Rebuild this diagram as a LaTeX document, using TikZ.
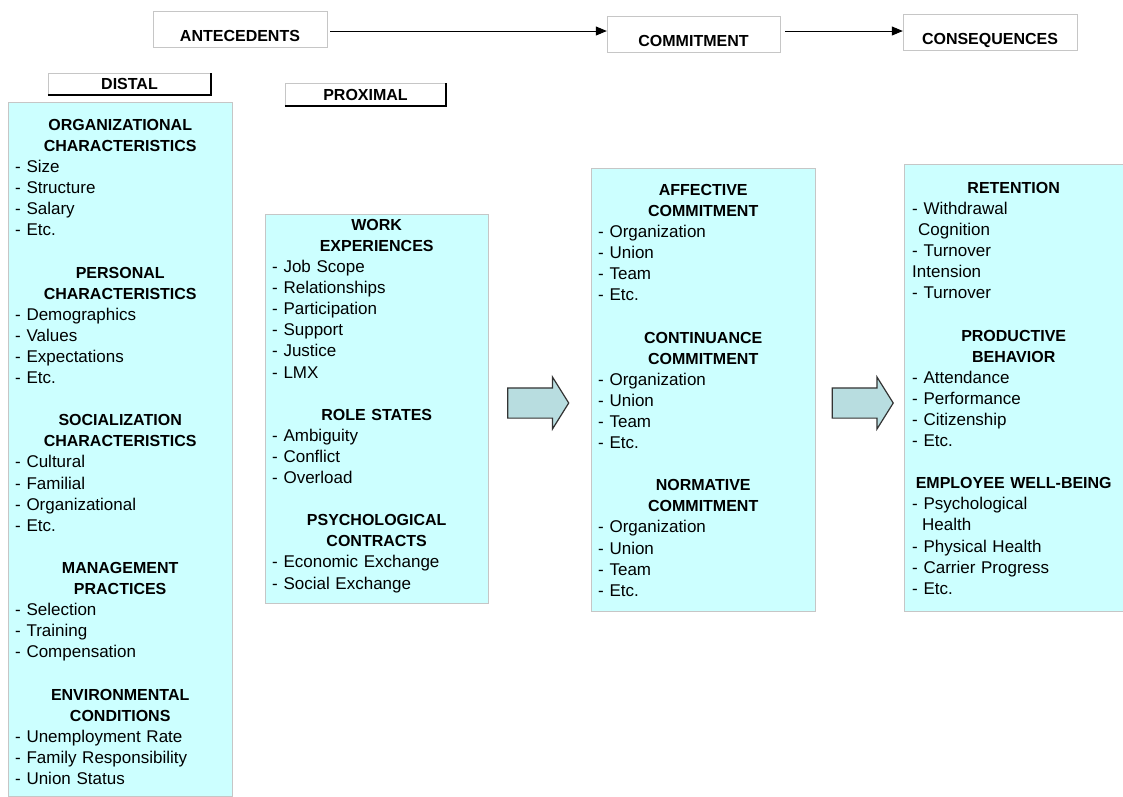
\documentclass[tikz,border=0pt]{standalone}
\usepackage{fontspec}
\setmainfont{Liberation Sans}
\usetikzlibrary{arrows.meta,shapes.arrows}

\definecolor{boxcyan}{RGB}{204,255,255}
\definecolor{arrowfill}{RGB}{184,221,224}

% heading inside a column box, centred and bold
\newcommand{\colhead}[1]{{\centering\bfseries\fontsize{16}{21.1}\selectfont #1\par}}
% one empty row between two groups
\newcommand{\blankrow}{\par\vspace{21.1pt}}

\tikzset{
  colbox/.style={draw=gray!45, fill=boxcyan, anchor=north west, inner sep=0pt},
  coltext/.style={anchor=north, inner sep=0pt, align=left,
    font=\fontsize{17}{21.1}\selectfont},
  hdrbox/.style={draw=gray!45, minimum width=174pt, minimum height=36pt, inner sep=0pt,
    font=\bfseries\fontsize{16}{19}\selectfont, text height=26pt, text depth=1pt},
  tagbox/.style={draw=gray!45, minimum height=22pt, inner sep=0pt,
    font=\bfseries\fontsize{16}{19}\selectfont},
  hdrarrow/.style={-{Triangle[length=11pt,width=9pt]}, line width=1pt},
  bigarrow/.style={single arrow, draw=black!80, line width=1.2pt, fill=arrowfill,
    minimum height=61pt, inner xsep=0pt, inner ysep=14.5pt,
    single arrow head extend=11pt, single arrow tip angle=116}
}

\begin{document}
\begin{tikzpicture}[x=1pt, y=-1pt]
  \useasboundingbox (0,0) rectangle (1123,796);

  % top row
  \node[hdrbox] (ante) at (240,29) {ANTECEDENTS};
  \node[hdrbox, minimum width=173pt] (hcomm) at (693.5,34) {COMMITMENT};
  \node[hdrbox] (hcons) at (990,32) {CONSEQUENCES};
  \draw[hdrarrow, shorten <=3pt] ([yshift=-2pt]ante.east) -- ([yshift=-2pt]ante.east -| hcomm.west);
  \draw[hdrarrow, shorten <=5pt] ([yshift=3pt]hcomm.east) -- ([yshift=3pt]hcomm.east -| hcons.west);

  % distal / proximal tags
  \node[tagbox, minimum width=163pt] (distlbl) at (129.5,84) {DISTAL};
  \draw[line width=1.6pt] (distlbl.south west) -- (distlbl.south east) -- (distlbl.north east);
  \node[tagbox, minimum width=161pt] (proxlbl) at (365.5,94.5) {PROXIMAL};
  \draw[line width=1.6pt] (proxlbl.south west) -- (proxlbl.south east) -- (proxlbl.north east);

  % column boxes
  \node[colbox, minimum width=224pt, minimum height=694pt] (distal) at (8,102) {};
  \node[colbox, minimum width=223pt, minimum height=389pt] (work) at (265,214) {};
  \node[colbox, minimum width=224pt, minimum height=443pt] (comm) at (591,168) {};
  \node[colbox, minimum width=219pt, minimum height=447pt] (cons) at (904,164) {};

  % distal antecedents
  \node[coltext, text width=210pt] (distaltxt) at ([yshift=-17pt]distal.north) {%
    \colhead{ORGANIZATIONAL\\CHARACTERISTICS}
    - Size\\- Structure\\- Salary\\- Etc.\blankrow
    \colhead{PERSONAL\\CHARACTERISTICS}
    - Demographics\\- Values\\- Expectations\\- Etc.\blankrow
    \colhead{SOCIALIZATION\\CHARACTERISTICS}
    - Cultural\\- Familial\\- Organizational\\- Etc.\blankrow
    \colhead{MANAGEMENT\\PRACTICES}
    - Selection\\- Training\\- Compensation\blankrow
    \colhead{ENVIRONMENTAL\\CONDITIONS}
    - Unemployment Rate\\- Family Responsibility\\- Union Status};

  % proximal antecedents
  \node[coltext, text width=209pt] (worktxt) at ([yshift=-5pt]work.north) {%
    \colhead{WORK\\EXPERIENCES}
    - Job Scope\\- Relationships\\- Participation\\- Support\\- Justice\\- LMX\blankrow
    \colhead{ROLE STATES}
    - Ambiguity\\- Conflict\\- Overload\blankrow
    \colhead{PSYCHOLOGICAL\\CONTRACTS}
    - Economic Exchange\\- Social Exchange};

  % commitment
  \node[coltext, text width=210pt] (commtxt) at ([yshift=-16pt]comm.north) {%
    \colhead{AFFECTIVE\\COMMITMENT}
    - Organization\\- Union\\- Team\\- Etc.\blankrow
    \colhead{CONTINUANCE\\COMMITMENT}
    - Organization\\- Union\\- Team\\- Etc.\blankrow
    \colhead{NORMATIVE\\COMMITMENT}
    - Organization\\- Union\\- Team\\- Etc.};

  % consequences
  \node[coltext, text width=203pt] (constxt) at ([yshift=-18pt]cons.north) {%
    \colhead{RETENTION}
    - Withdrawal\\\hspace*{6pt}Cognition\\- Turnover\\Intension\\- Turnover\blankrow
    \colhead{PRODUCTIVE\\BEHAVIOR}
    - Attendance\\- Performance\\- Citizenship\\- Etc.\blankrow
    \colhead{EMPLOYEE WELL-BEING}
    - Psychological\\\hspace*{10pt}Health\\- Physical Health\\- Carrier Progress\\- Etc.};

  % block arrows between columns
  \node[bigarrow] (arr1) at (533.5,403) {};
  \node[bigarrow] (arr2) at (858,403) {};
\end{tikzpicture}
\end{document}
